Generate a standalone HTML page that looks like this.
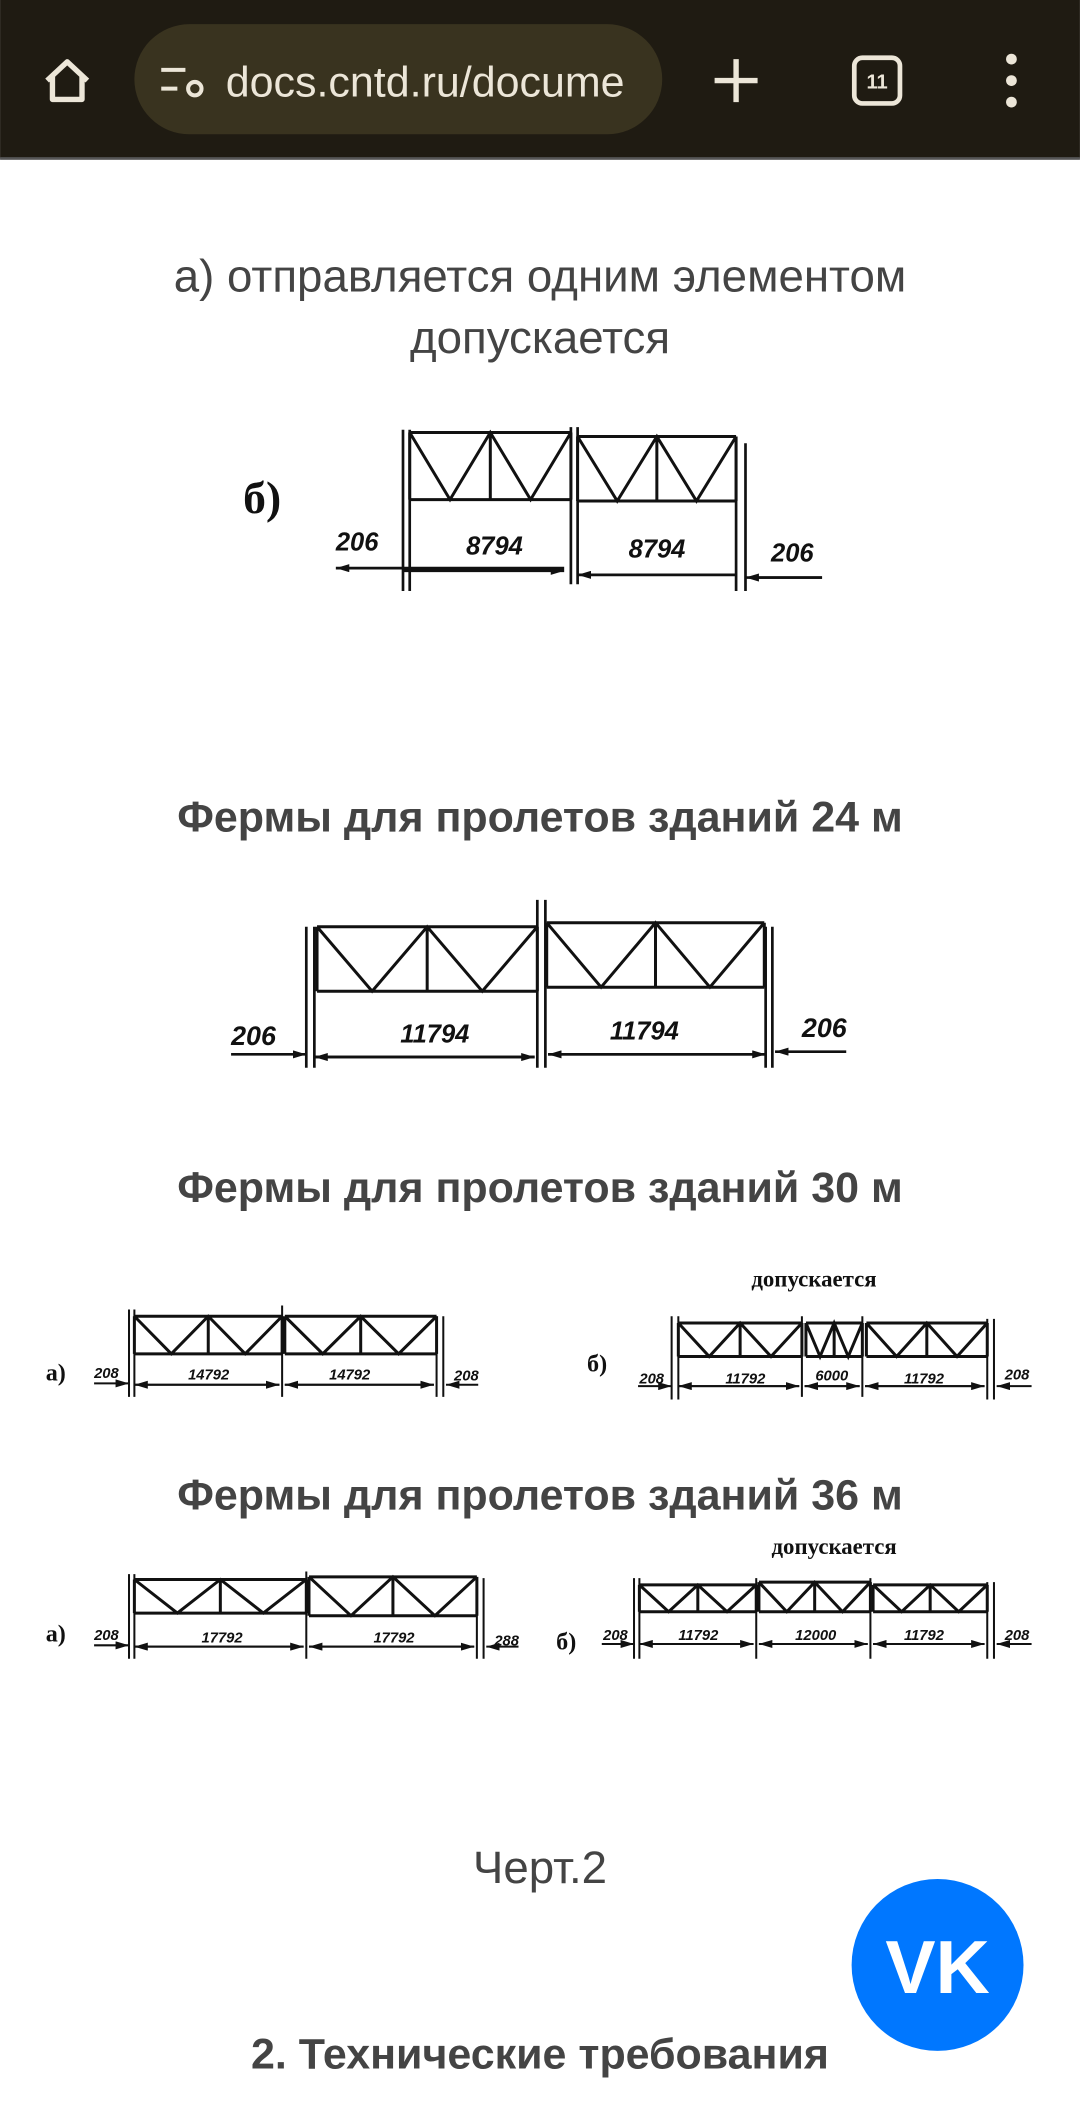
<!DOCTYPE html>
<html><head><meta charset="utf-8"><style>
html,body{margin:0;padding:0;background:#fff;width:1080px;height:2106px;overflow:hidden}
svg{display:block}
.t{font-family:"Liberation Sans",sans-serif;fill:#444}
.d{font-family:"Liberation Sans",sans-serif;font-style:italic;font-weight:bold;fill:#111}
.s{font-family:"Liberation Serif",serif;font-weight:bold;fill:#111}
</style></head><body>
<svg width="1080" height="2106" viewBox="0 0 804 1568" xmlns="http://www.w3.org/2000/svg">
<defs>
<g id="tr" fill="none" stroke="#111">
<path vector-effect="non-scaling-stroke" stroke-width="3" d="M0 0H100M0 100H100M0 0V100M50 0V100M100 0V100M0 0L25 100L50 0L75 100L100 0"/>
</g>
<marker id="ar" markerWidth="10" markerHeight="6" refX="10" refY="3" orient="auto" markerUnits="userSpaceOnUse"><path d="M0 0L10 3L0 6z" fill="#111"/></marker>
</defs>
<rect x="0" y="0" width="804" height="118" fill="#1f1b12"/>
<rect x="0" y="117" width="804" height="2" fill="#555"/>
<path d="M35 60L50 46L65 60M39 57V74H61V57" fill="none" stroke="#ece6d8" stroke-width="4" stroke-linejoin="round"/>
<rect x="100" y="18" width="393" height="82" rx="41" fill="#39331f"/>
<g stroke="#ece6d8" stroke-width="3" fill="none"><path d="M120 52H138M120 66H132"/><circle cx="145" cy="66" r="5"/></g>
<text x="168" y="72" font-family="Liberation Sans,sans-serif" font-size="32" fill="#ece6d8">docs.cntd.ru/docume</text>
<path d="M548 44V76M532 60H564" stroke="#ece6d8" stroke-width="4"/>
<rect x="636" y="43" width="34" height="34" rx="6" fill="none" stroke="#ece6d8" stroke-width="3.5"/>
<text x="653" y="66" text-anchor="middle" font-family="Liberation Sans,sans-serif" font-size="15" font-weight="bold" fill="#ece6d8">11</text>
<g fill="#ece6d8"><circle cx="753" cy="44" r="4"/><circle cx="753" cy="60" r="4"/><circle cx="753" cy="76" r="4"/></g>

<text class="t" x="402" y="217" font-size="34" text-anchor="middle">а) отправляется одним элементом</text>
<text class="t" x="402" y="263" font-size="34" text-anchor="middle">допускается</text>

<g stroke="#111" stroke-width="2">
<path d="M300 320V440M305 320V440M425 318V435M430 318V435M548 330V440M555 330V440"/>
<path d="M250 423H420M420 423H250" marker-end="url(#ar)"/>
<path d="M300 425H420" marker-end="url(#ar)"/><path d="M548 428H430" marker-end="url(#ar)"/>
<path d="M612 430H555" marker-end="url(#ar)"/><path d="M560 430H612"/>
</g>
<use href="#tr" transform="translate(305,322) scale(1.2,0.5)"/>
<use href="#tr" transform="translate(430,325) scale(1.18,0.48)"/>
<text class="s" x="181" y="382" font-size="34">б)</text>
<text class="d" x="250" y="410" font-size="19">206</text>
<text class="d" x="347" y="413" font-size="19">8794</text>
<text class="d" x="468" y="415" font-size="19">8794</text>
<text class="d" x="574" y="418" font-size="19">206</text>

<text class="t" x="402" y="619" font-size="32" font-weight="bold" text-anchor="middle">Фермы для пролетов зданий 24 м</text>
<g stroke="#111" stroke-width="2">
<path d="M228 690V795M234 690V795M400 670V795M406 670V795M570 690V795M575 690V795"/>
<path d="M172 785H228" marker-end="url(#ar)"/><path d="M234 787H398" marker-end="url(#ar)"/><path d="M398 787H234" marker-end="url(#ar)"/>
<path d="M570 785H408" marker-end="url(#ar)"/><path d="M408 785H570" marker-end="url(#ar)"/><path d="M630 783H577" marker-end="url(#ar)"/>
</g>
<use href="#tr" transform="translate(236,690) scale(1.64,0.48)"/>
<use href="#tr" transform="translate(407,687) scale(1.62,0.48)"/>
<text class="d" x="172" y="778" font-size="20">206</text>
<text class="d" x="298" y="776" font-size="19">11794</text>
<text class="d" x="454" y="774" font-size="19">11794</text>
<text class="d" x="597" y="772" font-size="20">206</text>

<text class="t" x="402" y="895" font-size="32" font-weight="bold" text-anchor="middle">Фермы для пролетов зданий 30 м</text>
<g stroke="#111" stroke-width="1.5">
<path d="M96 975V1040M100 975V1040M210 972V1040M325 980V1040M330 980V1040"/>
<path d="M70 1030H96" marker-end="url(#ar)"/><path d="M100 1031H208" marker-end="url(#ar)"/><path d="M208 1031H100" marker-end="url(#ar)"/>
<path d="M323 1031H212" marker-end="url(#ar)"/><path d="M212 1031H323" marker-end="url(#ar)"/><path d="M356 1031H332" marker-end="url(#ar)"/>
</g>
<use href="#tr" transform="translate(100,980) scale(1.1,0.28)"/>
<use href="#tr" transform="translate(212,980) scale(1.13,0.28)"/>
<text class="s" x="34" y="1028" font-size="18">а)</text>
<text class="d" x="70" y="1026" font-size="11">208</text>
<text class="d" x="140" y="1027" font-size="11">14792</text>
<text class="d" x="245" y="1027" font-size="11">14792</text>
<text class="d" x="338" y="1028" font-size="11">208</text>
<text class="s" x="606" y="958" font-size="17" text-anchor="middle">допускается</text>
<g stroke="#111" stroke-width="1.5">
<path d="M500 980V1042M505 980V1042M597 980V1040M642 980V1040M735 982V1042M740 982V1042"/>
<path d="M475 1032H500" marker-end="url(#ar)"/><path d="M505 1032H595" marker-end="url(#ar)"/><path d="M595 1032H505" marker-end="url(#ar)"/>
<path d="M599 1032H640" marker-end="url(#ar)"/><path d="M640 1032H599" marker-end="url(#ar)"/>
<path d="M733 1032H644" marker-end="url(#ar)"/><path d="M644 1032H733" marker-end="url(#ar)"/><path d="M768 1032H742" marker-end="url(#ar)"/>
</g>
<use href="#tr" transform="translate(505,985) scale(0.92,0.25)"/>
<use href="#tr" transform="translate(600,985) scale(0.42,0.25)"/>
<use href="#tr" transform="translate(645,985) scale(0.9,0.25)"/>
<text class="s" x="437" y="1021" font-size="18">б)</text>
<text class="d" x="476" y="1030" font-size="11">208</text>
<text class="d" x="540" y="1030" font-size="11">11792</text>
<text class="d" x="607" y="1028" font-size="11">6000</text>
<text class="d" x="673" y="1030" font-size="11">11792</text>
<text class="d" x="748" y="1027" font-size="11">208</text>

<text class="t" x="402" y="1124" font-size="32" font-weight="bold" text-anchor="middle">Фермы для пролетов зданий 36 м</text>
<g stroke="#111" stroke-width="1.5">
<path d="M96 1172V1235M100 1172V1235M228 1170V1235M355 1175V1235M360 1175V1235"/>
<path d="M70 1225H96" marker-end="url(#ar)"/><path d="M100 1226H226" marker-end="url(#ar)"/><path d="M226 1226H100" marker-end="url(#ar)"/>
<path d="M353 1226H230" marker-end="url(#ar)"/><path d="M230 1226H353" marker-end="url(#ar)"/><path d="M386 1226H362" marker-end="url(#ar)"/>
</g>
<use href="#tr" transform="translate(100,1176) scale(1.28,0.25)"/>
<use href="#tr" transform="translate(230,1174) scale(1.25,0.29)"/>
<text class="s" x="34" y="1222" font-size="18">а)</text>
<text class="d" x="70" y="1221" font-size="11">208</text>
<text class="d" x="150" y="1223" font-size="11">17792</text>
<text class="d" x="278" y="1223" font-size="11">17792</text>
<text class="d" x="368" y="1225" font-size="11">288</text>
<text class="s" x="621" y="1157" font-size="17" text-anchor="middle">допускается</text>
<g stroke="#111" stroke-width="1.5">
<path d="M472 1175V1235M476 1175V1235M563 1175V1235M648 1175V1235M735 1178V1235M740 1178V1235"/>
<path d="M448 1224H472" marker-end="url(#ar)"/><path d="M476 1224H561" marker-end="url(#ar)"/><path d="M561 1224H476" marker-end="url(#ar)"/>
<path d="M565 1224H646" marker-end="url(#ar)"/><path d="M646 1224H565" marker-end="url(#ar)"/>
<path d="M733 1224H650" marker-end="url(#ar)"/><path d="M650 1224H733" marker-end="url(#ar)"/><path d="M768 1224H742" marker-end="url(#ar)"/>
</g>
<use href="#tr" transform="translate(476,1180) scale(0.87,0.2)"/>
<use href="#tr" transform="translate(565,1178) scale(0.83,0.22)"/>
<use href="#tr" transform="translate(650,1180) scale(0.85,0.2)"/>
<text class="s" x="414" y="1228" font-size="18">б)</text>
<text class="d" x="449" y="1221" font-size="11">208</text>
<text class="d" x="505" y="1221" font-size="11">11792</text>
<text class="d" x="592" y="1221" font-size="11">12000</text>
<text class="d" x="673" y="1221" font-size="11">11792</text>
<text class="d" x="748" y="1221" font-size="11">208</text>

<text class="t" x="402" y="1402" font-size="34" text-anchor="middle">Черт.2</text>
<circle cx="698" cy="1463" r="64" fill="#0077ff"/>
<text x="698" y="1484" text-anchor="middle" font-family="Liberation Sans,sans-serif" font-weight="bold" font-size="56" fill="#fff">VK</text>
<text class="t" x="402" y="1540" font-size="32" font-weight="bold" text-anchor="middle">2. Технические требования</text>
</svg>
</body></html>
